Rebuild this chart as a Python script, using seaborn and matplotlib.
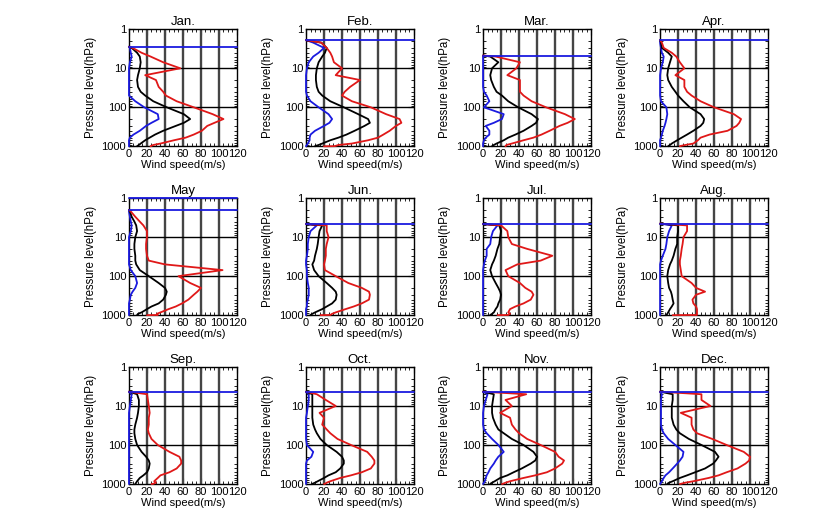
import numpy as np
import pandas as pd
import matplotlib
matplotlib.use("Agg")
import matplotlib.pyplot as plt
import seaborn as sns
from matplotlib.ticker import LogLocator, MultipleLocator, NullFormatter

MONTHS = ["Jan.", "Feb.", "Mar.", "Apr.", "May", "Jun.",
          "Jul.", "Aug.", "Sep.", "Oct.", "Nov.", "Dec."]

# pressure levels (hPa), surface to top
LEVELS = [1000, 990, 925, 850, 700, 600, 500, 400, 300, 250, 200, 150,
          100, 70, 50, 40, 30, 20, 15, 10, 7, 5, 4, 3, 2.2]

# highest level of each monthly profile (all series go calm there)
TOP_LEVEL = [2.8, 1.9, 4.7, 1.9, 2.0, 4.6, 4.6, 4.5, 4.3, 4.3, 4.3, 4.3]
# levels where the minimum profile holds the fill value
FILL_LEVELS = [[2.8], [1.9], [4.7], [1.9], [2.0, 1.0], [4.6],
               [4.6], [4.5], [4.3], [4.3], [4.3], [4.3]]
CALM = 0.0

N = None
MIN_SPEED = [
    [0, 0, 0, 0, 0, 1, 5, 12, 19, 25, 33, 32, 17, 7, 0, 0, 0, 0, 0, 0, 1, 3, 2, 1, N],
    [0, 0, 1, 2, 4, 4, 5, 10, 20, 26, 29, 25, 14, 5, 1, 0, 0, 0, 0, 1, 3, 8, 14, 20, 8],
    [0, 0, 0, 0, 1, 3, 7, 7, 3, 12, 21, 23, 1, 7, 4, 1, 0, 0, 0, 0, 0, 0, N, N, N],
    [0, 0, 0, 0, 0, 1, 2, 3, 5, 6, 7, 8, 7, 1, 0, 0, 0, 0, 0, 1, 3, 4, 2, 1, 0],
    [0, 0, 0, 0, 0, 0, 0, 1, 2, 4, 7, 9, 7, 2, 0, 0, 0, 0, 0, 0, 2, 3, 2, 1, 0],
    [0, 0, 0, 0, 0, 1, 1, 2, 3, 3, 3, 2, 1, 1, 0, 0, 1, 2, 2, 3, 5, 12, N, N, N],
    [0, 0, 0, 0, 0, 0, 0, 0, 0, 0, 0, 0, 0, 0, 1, 2, 4, 4, 8, 9, 11, 16, N, N, N],
    [0, 0, 0, 0, 0, 0, 0, 0, 0, 0, 0, 0, 0, 0, 0, 1, 3, 6, 7, 8, 10, 13, N, N, N],
    [0, 0, 0, 0, 0, 0, 0, 0, 0, 0, 0, 0, 0, 0, 0, 0, 0, 0, 0, 1, 2, 3, N, N, N],
    [0, 0, 0, 0, 0, 0, 0, 0, 0, 1, 6, 8, 1, 0, 0, 0, 0, 0, 1, 2, 3, 3, N, N, N],
    [0, 0, 1, 2, 3, 4, 6, 8, 12, 14, 17, 23, 17, 10, 4, 1, 0, 0, 0, 1, 3, 5, N, N, N],
    [0, 0, 1, 2, 4, 6, 10, 14, 19, 22, 25, 26, 17, 9, 4, 2, 1, 1, 1, 1, 1, 2, N, N, N],
]
MEAN_SPEED = [
    [9, 9, 11, 13, 18, 23, 29, 38, 52, 61, 68, 61, 42, 27, 18, 13, 10, 9, 10, 12, 13, 12, 9, 3, N],
    [10, 10, 14, 18, 27, 36, 45, 54, 65, 71, 69, 58, 42, 27, 18, 14, 12, 11, 11, 12, 14, 18, 21, 23, 17],
    [10, 10, 12, 15, 23, 28, 36, 45, 54, 59, 61, 54, 39, 28, 21, 15, 12, 9, 8, 10, 17, 8, N, N, N],
    [9, 9, 11, 13, 19, 24, 30, 37, 45, 48, 49, 45, 33, 26, 20, 17, 13, 9, 8, 9, 11, 13, 9, 2, 1],
    [9, 9, 10, 14, 20, 25, 33, 38, 41, 42, 40, 33, 22, 12, 8, 7, 7, 6, 6, 7, 9, 8, 6, 3, 1],
    [5, 5, 7, 10, 18, 23, 29, 33, 34, 33, 29, 23, 14, 9, 7, 9, 10, 12, 13, 14, 15, 18, N, N, N],
    [8, 8, 10, 12, 14, 16, 17, 19, 20, 19, 17, 14, 10, 8, 10, 12, 14, 16, 18, 19, 20, 18, N, N, N],
    [7, 7, 8, 9, 11, 13, 15, 14, 13, 12, 10, 9, 8, 9, 11, 13, 15, 17, 19, 19, 20, 20, N, N, N],
    [7, 7, 8, 9, 12, 16, 20, 22, 23, 22, 19, 14, 9, 7, 6, 6, 7, 9, 10, 11, 11, 9, N, N, N],
    [7, 7, 10, 13, 20, 25, 33, 38, 42, 42, 40, 34, 23, 16, 12, 10, 8, 7, 7, 7, 7, 7, N, N, N],
    [8, 8, 10, 13, 19, 27, 34, 43, 53, 58, 60, 56, 45, 32, 23, 17, 14, 11, 10, 10, 11, 12, N, N, N],
    [8, 8, 10, 14, 22, 30, 39, 50, 59, 62, 65, 61, 46, 32, 22, 18, 15, 13, 13, 13, 14, 14, N, N, N],
]
MAX_SPEED = [
    [24, 24, 27, 35, 50, 63, 72, 81, 87, 95, 105, 93, 72, 53, 41, 38, 33, 30, 18, 57, 38, 24, 14, 4, N],
    [20, 32, 36, 51, 69, 80, 86, 93, 100, 106, 104, 89, 72, 51, 40, 43, 49, 60, 33, 40, 31, 29, 27, 23, 17],
    [25, 25, 26, 32, 45, 56, 65, 74, 85, 94, 102, 91, 70, 54, 45, 41, 41, 41, 27, 37, 41, 14, N, N, N],
    [22, 22, 28, 37, 42, 45, 55, 75, 85, 88, 90, 82, 60, 45, 35, 30, 27, 27, 17, 27, 22, 18, 13, 4, 2],
    [20, 32, 31, 35, 44, 52, 59, 66, 72, 76, 80, 68, 55, 104, 40, 22, 20, 19, 19, 20, 20, 16, 12, 7, 2],
    [16, 27, 29, 33, 44, 53, 62, 70, 71, 70, 62, 47, 33, 21, 20, 21, 22, 22, 23, 25, 23, 23, N, N, N],
    [16, 28, 30, 28, 30, 36, 45, 53, 56, 54, 47, 41, 28, 25, 38, 64, 77, 49, 32, 28, 27, 20, N, N, N],
    [14, 41, 41, 41, 41, 40, 37, 36, 40, 50, 40, 35, 24, 23, 22, 22, 23, 24, 25, 26, 30, 30, N, N, N],
    [25, 27, 30, 28, 32, 35, 45, 53, 58, 58, 56, 45, 32, 25, 22, 21, 22, 22, 23, 22, 21, 20, N, N, N],
    [20, 21, 23, 27, 38, 50, 62, 72, 76, 76, 73, 68, 50, 35, 27, 23, 18, 20, 15, 33, 22, 12, N, N, N],
    [21, 22, 25, 30, 45, 58, 71, 80, 88, 90, 84, 80, 64, 49, 40, 36, 32, 30, 19, 32, 25, 48, N, N, N],
    [22, 23, 28, 37, 54, 65, 74, 86, 95, 99, 100, 93, 74, 58, 41, 37, 35, 35, 23, 56, 46, 46, N, N, N],
]

COLORS = {"min": "#1a1adf", "mean": "black", "max": "#e01818"}

sns.set_style("ticks")
plt.rcParams["font.family"] = ["Liberation Sans", "DejaVu Sans"]

fig, axes = plt.subplots(3, 4, figsize=(8.36, 5.12), dpi=100)
fig.subplots_adjust(left=0.1543, right=0.9187, top=0.9428, bottom=0.0547,
                    wspace=0.64, hspace=0.443)

for m, ax in enumerate(axes.flat):
    rows = []
    for name, table in [("min", MIN_SPEED), ("mean", MEAN_SPEED), ("max", MAX_SPEED)]:
        for p, v in zip(LEVELS, table[m]):
            if v is not None:
                rows.append((name, p, v))
        rows.append((name, TOP_LEVEL[m], CALM))
    df = pd.DataFrame(rows, columns=["series", "pressure", "speed"])

    ax.set_yscale("log")
    for x in range(20, 120, 20):
        ax.axvline(x, color="#454545", lw=1.7, zorder=1)
    for y in [10, 100]:
        ax.axhline(y, color="black", lw=1.0, zorder=1)

    sns.lineplot(data=df, x="speed", y="pressure", hue="series", palette=COLORS,
                 hue_order=["min", "mean", "max"], sort=False, estimator=None,
                 legend=False, ax=ax, linewidth=1.3, zorder=5, clip_on=False)
    for lvl in FILL_LEVELS[m]:
        ax.axhline(lvl, color=COLORS["min"], lw=1.3, zorder=5, clip_on=False)

    ax.set_xlim(0, 120)
    ax.set_ylim(1000, 1)
    ax.set_xticks(range(0, 121, 20))
    ax.xaxis.set_minor_locator(MultipleLocator(5))
    ax.set_yticks([1, 10, 100, 1000])
    ax.set_yticklabels(["1", "10", "100", "1000"])
    ax.yaxis.set_minor_locator(LogLocator(base=10, subs=np.arange(2, 10)))
    ax.yaxis.set_minor_formatter(NullFormatter())
    ax.tick_params(which="both", direction="in", top=True, right=True,
                   labelsize=8, pad=2, color="black", labelcolor="black")
    ax.tick_params(which="major", length=4, width=0.8)
    ax.tick_params(which="minor", length=2, width=0.6)
    for s in ax.spines.values():
        s.set_linewidth(1.0)
        s.set_color("black")
        s.set_zorder(4)
    ax.set_title(MONTHS[m], fontsize=9.5, pad=3, color="black")
    ax.set_xlabel("Wind speed(m/s)", fontsize=8, labelpad=1, color="black")
    ax.set_ylabel("Pressure level(hPa)", fontsize=8.3, labelpad=3, color="black")

fig.savefig("out.png", dpi=100)
